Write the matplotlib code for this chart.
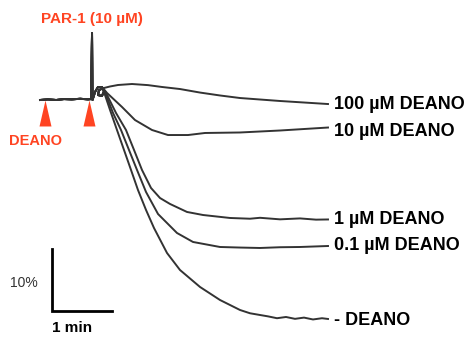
import matplotlib.pyplot as plt

plt.rcParams["font.family"] = ["Liberation Sans", "DejaVu Sans"]

# shared part: baseline, PAR-1 spike and the small loop (time in min, signal in %)
pre_t = [0.0, 0.13, 0.27, 0.4, 0.53, 0.67, 0.8, 0.85, 0.867, 0.875, 0.917, 0.967, 1.033, 1.067, 1.033, 0.967, 0.983, 1.05]
pre_v = [0.0, 0.1, 0.0, 0.15, 0.1, 0.2, 0.1, 0.15, 10.8, 0.0, 1.3, 2.1, 2.1, 1.45, 0.65, 0.8, 1.6, 1.9]

labels = ["100 µM DEANO", "10 µM DEANO", "1 µM DEANO", "0.1 µM DEANO", "- DEANO"]
traces_t = [
    [1.167, 1.3, 1.533, 1.8, 2.033, 2.333, 2.667, 3.0, 3.333, 4.0, 4.8],
    [1.117, 1.367, 1.583, 1.867, 2.133, 2.467, 2.75, 3.333, 4.0, 4.8],
    [1.117, 1.267, 1.433, 1.567, 1.7, 1.85, 2.0, 2.167, 2.45, 2.717, 3.167, 3.5, 3.667, 4.0, 4.333, 4.6, 4.8],
    [1.1, 1.217, 1.35, 1.483, 1.617, 1.767, 1.967, 2.283, 2.55, 3.0, 3.333, 3.667, 4.0, 4.333, 4.8],
    [1.083, 1.167, 1.283, 1.4, 1.517, 1.633, 1.767, 1.9, 2.117, 2.333, 2.667, 3.0, 3.333, 3.5, 3.667,
     3.8, 3.95, 4.1, 4.25, 4.4, 4.55, 4.7, 4.8],
]
traces_v = [
    [2.18, 2.42, 2.58, 2.4, 2.1, 1.77, 1.2, 0.73, 0.32, -0.16, -0.65],
    [1.13, -1.13, -3.23, -4.84, -5.65, -5.65, -5.32, -5.24, -4.92, -4.44],
    [0.81, -2.1, -4.84, -8.06, -11.29, -14.19, -15.81, -16.77, -18.06, -18.55, -19.03, -19.15, -19.0, -19.25,
     -19.1, -19.3, -19.27],
    [0.81, -2.1, -4.84, -8.06, -11.29, -14.84, -18.39, -21.45, -22.9, -23.71, -23.8, -23.87, -23.75, -23.71, -23.55],
    [0.81, -1.61, -4.84, -8.06, -11.29, -14.52, -17.74, -20.65, -24.68, -27.42, -30.16, -32.26, -33.87, -34.4, -34.68,
     -34.9, -35.2, -35.0, -35.3, -35.1, -35.4, -35.2, -35.32],
]
label_dy = [0, -3, 0, 0, -1]  # label offsets in points

deano_t = 0.083
par1_t = 0.817

fig = plt.figure(figsize=(4.76, 3.38), dpi=100)
ax = fig.add_axes([0, 0, 1, 1])
ax.set_xlim(-0.667, 7.267)
ax.set_ylim(-38.39, 16.13)
ax.axis("off")

line_c = "#333333"
red = "#ff4422"

for t, v, lab, dy in zip(traces_t, traces_v, labels, label_dy):
    ax.plot(pre_t + t, pre_v + v, color=line_c, lw=1.4, solid_joinstyle="round")
    ax.annotate(lab, (t[-1], v[-1]), xytext=(4, dy), textcoords="offset points",
                ha="left", va="center", fontsize=13, fontweight="bold", color="black")

# red arrowheads
tri = [(-6, -13), (6, -13), (0, 13)]
for tt in [deano_t, par1_t]:
    ax.plot(tt, -2.1, marker=tri, markersize=18.7, color=red, mec="none")

ax.text(par1_t + 0.05, 13.0, "PAR-1 (10 µM)", color=red, fontsize=11, fontweight="bold",
        ha="center", va="center")
ax.text(-0.08, -6.6, "DEANO", color=red, fontsize=10.5, fontweight="bold", ha="center", va="center")

# scale bar: 1 min x 10 %
ax.plot([0.2, 0.2, 1.2], [-24.03, -34.03, -34.03], color="black", lw=2, solid_joinstyle="miter")
ax.text(-0.03, -29.5, "10%", ha="right", va="center", fontsize=10, color="#333333")
ax.text(0.2, -36.8, "1 min", ha="left", va="center", fontsize=11, fontweight="bold", color="black")

fig.savefig("out.png", dpi=100)
